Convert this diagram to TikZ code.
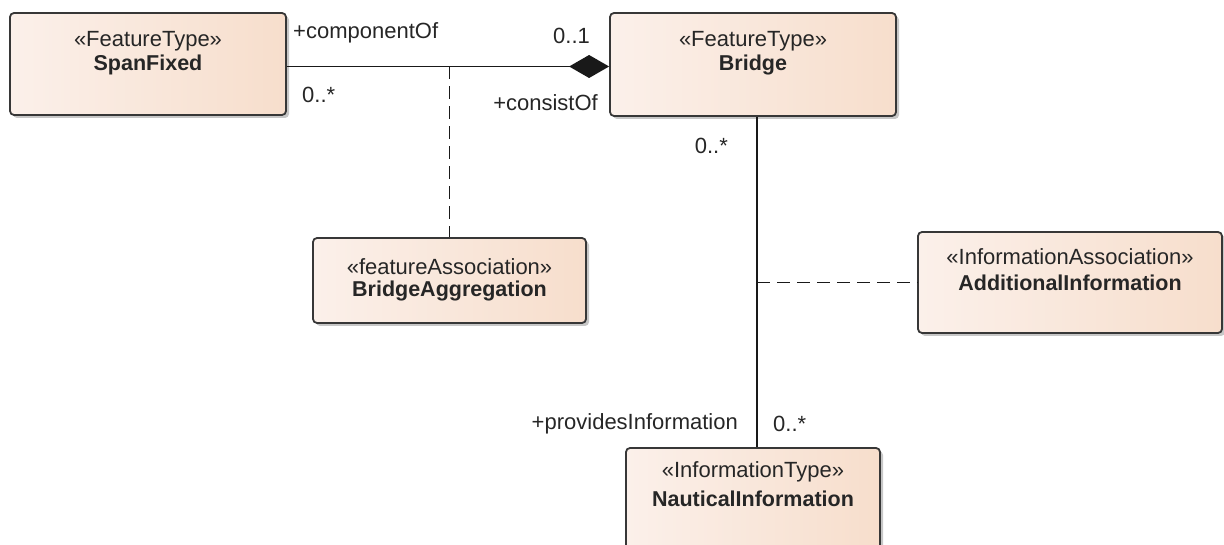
\documentclass[tikz,border=0pt]{standalone}
\usepackage{fontspec}
\setmainfont{Liberation Sans}
\usetikzlibrary{arrows.meta,shadows,calc}
\definecolor{clsL}{RGB}{251,240,234}
\definecolor{clsM}{RGB}{252,246,241}
\definecolor{clsR}{RGB}{247,222,204}
\definecolor{edge}{RGB}{55,55,55}
\begin{document}
\begin{tikzpicture}[x=1pt,y=-1pt,
  cls/.style={draw=edge, line width=1.8pt, rounded corners=4pt,
    left color=clsL, middle color=clsM, right color=clsR,
    drop shadow={shadow xshift=3pt, shadow yshift=-3pt, opacity=0.22, fill=black},
    inner sep=0pt},
  stereo/.style={font=\fontsize{22}{24}\selectfont, text=black!85, inner sep=0pt},
  cname/.style={font=\fontsize{21.5}{24}\selectfont\bfseries, text=black!85, inner sep=0pt},
  lbl/.style={font=\fontsize{22}{24}\selectfont, text=black!85, inner sep=0pt},
  conn/.style={draw=black!90, line width=1.8pt},
  dsh/.style={conn, dash pattern=on 13pt off 7pt}
]
\useasboundingbox (0,0) rectangle (1224,545);
\clip (0,0) rectangle (1224,545);

% classes
\node[cls, minimum width=276pt, minimum height=102pt] (span) at (148,64) {};
\node[stereo] at ([yshift=-29pt]span.north) {«FeatureType»};
\node[cname]  at ([yshift=-53pt]span.north) {SpanFixed};

\node[cls, minimum width=286pt, minimum height=103pt] (bridge) at (753,64.5) {};
\node[stereo] at ([yshift=-29pt]bridge.north) {«FeatureType»};
\node[cname]  at ([yshift=-53pt]bridge.north) {Bridge};

\node[cls, minimum width=273pt, minimum height=85pt] (agg) at (449.5,280.5) {};
\node[stereo] at ([yshift=-30pt]agg.north) {«featureAssociation»};
\node[cname]  at ([yshift=-54pt]agg.north) {BridgeAggregation};

\node[cls, minimum width=304pt, minimum height=101pt] (addl) at (1070,282.5) {};
\node[stereo] at ([yshift=-26pt]addl.north) {«InformationAssociation»};
\node[cname]  at ([yshift=-52pt]addl.north) {AdditionalInformation};

\node[cls, minimum width=254pt, minimum height=116pt] (naut) at (753,506) {};
\node[stereo] at ([yshift=-25pt]naut.north) {«InformationType»};
\node[cname]  at ([yshift=-52pt]naut.north) {NauticalInformation};

% composition
\coordinate (cs) at ([yshift=-2.5pt]span.east);
\coordinate (ce) at (cs -| bridge.west);
\draw[conn, -{Diamond[length=40pt,width=23pt]}] (cs) -- (ce);
\coordinate (j1) at (cs -| agg.north);
\draw[dsh] (j1) -- (agg.north);

% bridge - nautical
\coordinate (bt) at ([xshift=4pt]bridge.south);
\coordinate (nt) at (bt |- naut.north);
\draw[conn] (bt) -- (nt);
\coordinate (aj) at (bt |- addl.west);
\draw[dsh] (aj) -- (addl.west);

% labels
\node[lbl, anchor=west] at (293,33) {+componentOf};
\node[lbl, anchor=west] at (553,36) {0..1};
\node[lbl, anchor=west] at (302,95) {0..*};
\node[lbl, anchor=east] at (598,103) {+consistOf};
\node[lbl, anchor=east] at (728,146) {0..*};
\node[lbl, anchor=east] at (738,424) {+providesInformation};
\node[lbl, anchor=west] at (773,424) {0..*};
\end{tikzpicture}
\end{document}
